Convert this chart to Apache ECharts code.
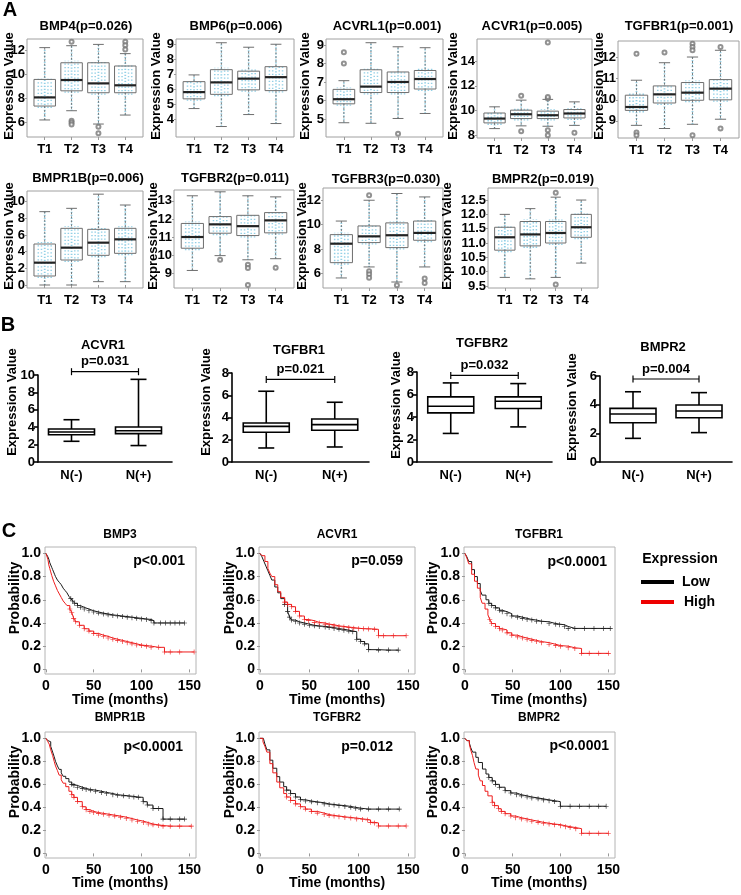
<!DOCTYPE html>
<html><head><meta charset="utf-8">
<script src="https://cdn.jsdelivr.net/npm/echarts@6/dist/echarts.min.js"></script>
<style>html,body{margin:0;padding:0;background:#fff}#c{width:741px;height:895px}</style>
</head><body><div id="c"></div>
<script>
// ---------------- DATA ----------------
// Panel A : five-number summaries [min, q1, median, q3, max] for T1..T4, outliers [category, value]
const A_CATS = ['T1','T2','T3','T4'];
const A_BMP4_BOX   = [[6.17,7.33,8.05,9.55,12.2],[6.94,8.6,9.5,10.94,12.36],[5.83,8.44,9.22,10.94,12.47],[6.58,8.44,9.06,10.67,11.7]];
const A_BMP4_OUT   = [[2,6.1],[2,5.95],[2,5.8],[2,12.7],[3,5.6],[3,5.06],[4,12.7],[4,12.4],[4,12.05]];
const A_BMP4_TICKS = [6,8,10,12];
const A_BMP6_BOX   = [[4.7,5.35,5.8,6.5,6.95],[3.5,5.65,6.45,7.3,9.1],[4.3,5.95,6.7,7.2,8.8],[3.7,5.9,6.8,7.5,9.0]];
const A_BMP6_OUT   = [];
const A_BMP6_TICKS = [4,5,6,7,8,9];
const A_ACVRL1_BOX = [[4.8,5.82,6.07,6.6,7.07],[4.77,6.43,6.75,7.66,9.12],[5.03,6.43,7.0,7.54,8.9],[5.3,6.62,7.16,7.62,8.85]];
const A_ACVRL1_OUT = [[1,8.6],[1,8.0],[3,4.2]];
const A_ACVRL1_TICKS = [5,6,7,8,9];
const A_ACVR1_BOX  = [[8.54,9.0,9.35,9.8,10.3],[8.76,9.35,9.7,10.03,10.84],[8.73,9.35,9.62,9.95,10.9],[8.8,9.4,9.76,10.08,10.7]];
const A_ACVR1_OUT  = [[2,11.2],[2,8.32],[3,15.5],[3,10.97],[3,11.1],[3,8.4],[3,8.0],[4,8.2]];
const A_ACVR1_TICKS = [8,10,12,14];
const A_TGFBR1_BOX = [[8.79,9.5,9.66,10.22,10.93],[8.64,9.85,10.26,10.66,11.76],[8.84,9.98,10.34,10.82,12.03],[9.08,10.0,10.53,10.96,12.35]];
const A_TGFBR1_OUT = [[1,12.19],[1,8.45],[1,8.32],[2,12.24],[3,12.66],[3,12.5],[3,12.35],[3,8.32],[4,12.5],[4,8.64]];
const A_TGFBR1_TICKS = [9,10,11,12];
const A_BMPR1B_BOX = [[0,1.08,2.68,4.92,8.8],[0,3.0,4.48,6.8,9.2],[0.4,3.56,5.08,6.68,10.9],[0.4,3.8,5.48,6.8,9.6]];
const A_BMPR1B_OUT = [];
const A_BMPR1B_TICKS = [0,2,4,6,8,10];
const A_TGFBR2_BOX = [[9.15,10.38,11.0,11.75,13.28],[9.97,11.21,11.7,12.13,13.5],[9.74,11.08,11.6,12.2,13.28],[9.8,11.23,11.92,12.35,13.22]];
const A_TGFBR2_OUT = [[2,9.74],[3,9.46],[3,9.28],[3,8.35],[4,9.3]];
const A_TGFBR2_TICKS = [9,10,11,12,13];
const A_TGFBR3_BOX = [[5.65,6.9,8.45,9.19,10.3],[6.55,8.54,9.05,9.9,12.0],[5.32,8.13,9.14,10.15,12.55],[6.55,8.73,9.33,10.3,12.27]];
const A_TGFBR3_OUT = [[2,12.4],[2,6.2],[2,5.95],[2,5.67],[3,5.05],[4,5.6],[4,5.24]];
const A_TGFBR3_TICKS = [6,8,10,12];
const A_BMPR2_BOX  = [[9.8,10.75,11.2,11.55,12.0],[9.75,10.9,11.3,11.75,12.2],[9.8,11.0,11.35,11.75,12.6],[10.3,11.2,11.55,12.0,12.5]];
const A_BMPR2_OUT  = [[3,9.55],[3,12.75]];
const A_BMPR2_TICKS = [9.5,10.0,10.5,11.0,11.5,12.0,12.5];

// Panel B : [min, q1, median, q3, max] for N(-), N(+)
const B_CATS = ['N(-)','N(+)'];
const B_ACVR1  = [[2.38,3.14,3.45,3.79,4.86],[1.89,3.26,3.6,4.02,9.5]];
const B_TGFBR1 = [[1.26,2.67,3.2,3.5,6.36],[1.35,2.85,3.36,3.87,5.37]];
const B_TGFBR2 = [[2.54,4.37,4.96,5.79,7.03],[3.12,4.75,5.4,5.79,6.97]];
const B_BMPR2  = [[1.65,2.74,3.35,3.74,4.9],[2.05,3.09,3.56,3.98,4.84]];
const B_PVALUES = ['p=0.031','p=0.021','p=0.032','p=0.004'];
const B_BRACKET_Y = [10.38,7.42,7.7,5.79];

// Panel C : Kaplan-Meier curves [months, probability]
const C_BMP3_LOW = [[0,1],[1,0.99],[2,0.97],[3,0.95],[4,0.92],[5,0.9],[6,0.88],[7,0.86],[8,0.84],[9,0.82],[10,0.8],[12,0.77],[14,0.75],[16,0.73],[18,0.7],[20,0.68],[22,0.66],[24,0.63],[26,0.61],[28,0.59],[30,0.57],[33,0.55],[36,0.535],[40,0.52],[45,0.505],[50,0.495],[55,0.485],[60,0.478],[65,0.47],[70,0.465],[75,0.46],[80,0.455],[85,0.45],[90,0.445],[95,0.44],[100,0.435],[105,0.43],[110,0.42],[113,0.4],[120,0.4],[125,0.4],[130,0.4],[135,0.4],[140,0.4],[145,0.4]];
const C_BMP3_HIGH = [[0,1],[2,0.95],[3,0.9],[4,0.87],[5,0.84],[6,0.81],[8,0.76],[10,0.72],[12,0.68],[14,0.65],[16,0.62],[18,0.59],[20,0.57],[22,0.55],[25,0.52],[27,0.49],[29,0.44],[31,0.41],[35,0.38],[40,0.35],[45,0.33],[50,0.31],[55,0.295],[60,0.285],[65,0.27],[70,0.26],[75,0.25],[80,0.24],[85,0.23],[90,0.22],[95,0.21],[100,0.205],[105,0.2],[110,0.19],[118,0.19],[124,0.15],[130,0.15],[140,0.15],[155,0.15]];
const C_ACVR1_LOW = [[0,1],[2,0.97],[4,0.93],[6,0.89],[8,0.85],[10,0.81],[12,0.77],[15,0.71],[18,0.66],[21,0.61],[25,0.56],[28,0.5],[30,0.45],[32,0.425],[36,0.41],[40,0.4],[45,0.39],[50,0.38],[55,0.375],[60,0.37],[66,0.366],[70,0.36],[75,0.352],[80,0.345],[85,0.338],[90,0.33],[94,0.325],[98,0.26],[102,0.24],[106,0.22],[110,0.17],[120,0.166],[130,0.166],[140,0.166]];
const C_ACVR1_HIGH = [[0,1],[2,0.98],[5,0.93],[8,0.87],[10,0.83],[12,0.8],[15,0.73],[18,0.67],[21,0.62],[25,0.58],[28,0.56],[32,0.54],[36,0.5],[40,0.46],[45,0.43],[49,0.42],[55,0.405],[60,0.4],[66,0.39],[70,0.385],[75,0.375],[80,0.37],[85,0.365],[90,0.36],[95,0.355],[100,0.35],[105,0.35],[110,0.348],[116,0.345],[120,0.29],[125,0.29],[135,0.29],[148,0.29]];
const C_TGFBR1_LOW = [[0,1],[2,0.97],[4,0.93],[7,0.86],[10,0.8],[13,0.74],[16,0.68],[18,0.64],[22,0.6],[25,0.57],[28,0.55],[32,0.53],[36,0.51],[39,0.497],[44,0.48],[49,0.46],[55,0.45],[60,0.44],[65,0.43],[70,0.425],[75,0.415],[80,0.41],[88,0.395],[95,0.39],[99,0.385],[104,0.37],[108,0.353],[115,0.353],[125,0.353],[135,0.353],[145,0.353],[152,0.353]];
const C_TGFBR1_HIGH = [[0,1],[2,0.96],[4,0.91],[7,0.82],[10,0.76],[13,0.7],[16,0.62],[18,0.57],[21,0.52],[24,0.47],[26,0.43],[28,0.395],[32,0.37],[36,0.35],[39,0.34],[44,0.315],[49,0.295],[55,0.28],[60,0.27],[65,0.26],[70,0.25],[75,0.24],[80,0.23],[88,0.216],[95,0.205],[100,0.2],[108,0.186],[115,0.18],[122,0.138],[130,0.138],[140,0.138],[150,0.138]];
const C_BMPR1B_LOW = [[0,1],[2,0.98],[3.4,0.97],[5,0.93],[7,0.88],[8.6,0.84],[10,0.8],[12,0.76],[13.8,0.73],[16,0.7],[18,0.67],[20.7,0.65],[24,0.62],[27,0.6],[29.3,0.59],[33,0.575],[38,0.565],[42,0.555],[46.6,0.55],[52,0.54],[58,0.53],[63.5,0.52],[70,0.51],[75,0.505],[81,0.5],[87,0.495],[92,0.49],[96.6,0.487],[101.7,0.449],[106,0.42],[112,0.39],[118,0.39],[122.5,0.298],[130,0.298],[140,0.298],[145,0.298]];
const C_BMPR1B_HIGH = [[0,1],[2,0.97],[3.4,0.95],[5,0.9],[7,0.85],[8.6,0.8],[10,0.76],[12,0.72],[13.8,0.68],[16,0.64],[18,0.61],[20.7,0.58],[24,0.54],[27,0.51],[29.3,0.487],[33,0.45],[38,0.405],[42,0.38],[46,0.365],[50,0.355],[55,0.348],[60,0.34],[66,0.332],[72,0.324],[78,0.315],[84,0.303],[90,0.29],[96,0.28],[102,0.268],[107,0.255],[112,0.248],[118,0.242],[122.5,0.237],[130,0.237],[140,0.237],[152,0.237]];
const C_TGFBR2_LOW = [[0,1],[3.4,0.985],[5,0.95],[7,0.9],[10,0.81],[13,0.74],[17,0.667],[20,0.62],[24,0.58],[27,0.55],[31,0.52],[36,0.49],[41,0.466],[46,0.455],[52,0.448],[58,0.44],[65,0.43],[70,0.425],[75,0.42],[80,0.415],[86,0.408],[92,0.4],[97,0.393],[102,0.385],[110,0.385],[120,0.385],[130,0.385],[141,0.385]];
const C_TGFBR2_HIGH = [[0,1],[3,0.97],[5,0.93],[7,0.88],[10,0.78],[13,0.7],[17,0.62],[20,0.57],[24,0.52],[27,0.49],[31,0.46],[36,0.43],[41,0.405],[46,0.385],[52,0.365],[58,0.35],[65,0.338],[70,0.33],[75,0.325],[80,0.318],[86,0.312],[92,0.307],[98,0.3],[104,0.295],[109,0.29],[112,0.27],[116,0.265],[120,0.238],[130,0.238],[140,0.238],[148,0.238]];
const C_BMPR2_LOW = [[0,1],[2,0.98],[4.6,0.96],[6,0.92],[8,0.88],[11.4,0.835],[14,0.79],[18.3,0.733],[22,0.69],[25,0.66],[28.5,0.63],[32,0.6],[36,0.575],[42,0.545],[48,0.525],[54,0.51],[59,0.5],[65,0.49],[70,0.482],[76.5,0.474],[82,0.465],[88,0.458],[93.6,0.45],[99.8,0.41],[110,0.41],[120,0.41],[130,0.41],[140,0.41],[147.7,0.41]];
const C_BMPR2_HIGH = [[0,1],[2,0.98],[4.6,0.95],[6,0.9],[7.9,0.85],[9.5,0.79],[11.4,0.733],[14,0.68],[16,0.63],[18.3,0.59],[21,0.54],[24,0.5],[28.5,0.445],[31,0.415],[35,0.388],[38,0.365],[42,0.345],[48,0.325],[53,0.31],[59,0.3],[65,0.29],[70,0.28],[76.5,0.27],[82,0.262],[88,0.255],[93.6,0.25],[100,0.24],[105,0.232],[110,0.224],[116,0.215],[122,0.175],[130,0.175],[140,0.175],[150,0.175]];
const C_PVALUES = ['p<0.001','p=0.059','p<0.0001','p<0.0001','p=0.012','p<0.0001'];
const C_YTICKS = [0,0.2,0.4,0.6,0.8,1.0];
const C_XTICKS = [0,50,100,150];

// ---------------- BUILD ----------------
const FONT = '"Liberation Sans", Arial, Helvetica, sans-serif';
const grids = [], xAxes = [], yAxes = [], series = [], graphic = [];

function addText(x, y, s, o) {
  o = o || {};
  const font = (o.weight || 'bold') + ' ' + (o.size || 13) + 'px ' + FONT;
  graphic.push({type:'text', x:x, y:y, rotation:o.rot || 0, z:100, silent:true,
    style:{text:s, x:0, y:0, font:font, fill:o.color || '#000',
      textAlign:o.align || 'center', align:o.align || 'center',
      textVerticalAlign:'middle', verticalAlign:'middle'}});
}
function lbl(extra){ return Object.assign({fontFamily:FONT, fontWeight:'bold', fontSize:13, color:'#000'}, extra||{}); }
function ln(x1,y1,x2,y2,stroke,lw,dash){
  return {type:'line', shape:{x1:x1,y1:y1,x2:x2,y2:y2}, style:{stroke:stroke, lineWidth:lw, lineDash:dash||null, fill:null}};
}

function renderA(params, api) {
  const x = api.value(0);
  const v = [api.value(1),api.value(2),api.value(3),api.value(4),api.value(5)];
  const y = v.map(t => api.coord([x, t])[1]);
  const cx = api.coord([x, v[2]])[0];
  const w = api.size([0.8, 0])[0], hw = w/2, cw = w/4;
  const blue = '#93d0e6', grey = '#6e6e6e';
  const k = [];
  k.push(ln(cx, y[0], cx, y[4], blue, 1.8, [1.3,1.7]));
  [-0.6,-0.3,0.3,0.6].forEach(f => k.push(ln(cx+f*hw, y[1]+2, cx+f*hw, y[3]-2, blue, 1.5, [1.3,2.2])));
  k.push(ln(cx, y[4], cx, y[3], grey, 0.9, [2,2]));
  k.push(ln(cx, y[1], cx, y[0], grey, 0.9, [2,2]));
  k.push(ln(cx-cw, y[4], cx+cw, y[4], grey, 1));
  k.push(ln(cx-cw, y[0], cx+cw, y[0], grey, 1));
  k.push({type:'rect', shape:{x:cx-hw, y:y[3], width:w, height:y[1]-y[3]}, style:{fill:null, stroke:grey, lineWidth:1}});
  k.push(ln(cx-hw, y[2], cx+hw, y[2], '#222', 2.2));
  return {type:'group', children:k};
}

function addA(box, out, ticks, L, title, fmt) {
  const gi = grids.length;
  grids.push({left:L.g[0], top:L.g[1], width:L.g[2], height:L.g[3], show:true, borderColor:'#a0a0a0', borderWidth:1, containLabel:false, outerBoundsMode:'none'});
  xAxes.push({gridIndex:gi, type:'value', min:0.34, max:4.66, splitLine:{show:false}, axisLine:{show:false},
    axisTick:{show:true, length:3, lineStyle:{color:'#999'}, customValues:[1,2,3,4]},
    axisLabel:lbl({customValues:[1,2,3,4], margin:6, formatter:v => A_CATS[Math.round(v)-1]})});
  yAxes.push({gridIndex:gi, type:'value', min:L.r[0], max:L.r[1], splitLine:{show:false}, axisLine:{show:false},
    axisTick:{show:true, length:2, lineStyle:{color:'#999'}, customValues:ticks},
    axisLabel:lbl({customValues:ticks, margin:2, formatter:v => fmt ? v.toFixed(1) : String(v)})});
  series.push({type:'custom', xAxisIndex:gi, yAxisIndex:gi, renderItem:renderA, clip:false,
    encode:{x:0, y:[1,2,3,4,5]}, data:box.map((d,i) => [i+1].concat(d))});
  series.push({type:'scatter', xAxisIndex:gi, yAxisIndex:gi, symbol:'emptyCircle', symbolSize:4,
    itemStyle:{color:'#777', borderColor:'#777', borderWidth:0.8}, data:out});
  addText(L.t[0], L.t[1], title);
  addText(L.yl[0], L.yl[1], 'Expression Value', {rot:Math.PI/2});
}

// layouts (pixel positions)
addA(A_BMP4_BOX,   A_BMP4_OUT,   A_BMP4_TICKS,   {g:[27,39,116,98],  r:[4.75,12.92], t:[86,26],  yl:[9,86]},  'BMP4(p=0.026)');
addA(A_BMP6_BOX,   A_BMP6_OUT,   A_BMP6_TICKS,   {g:[176,39,118,98], r:[2.8,9.35],   t:[236,26], yl:[156,86]}, 'BMP6(p=0.006)');
addA(A_ACVRL1_BOX, A_ACVRL1_OUT, A_ACVRL1_TICKS, {g:[326,39,117,98], r:[4.03,9.32],  t:[387,26], yl:[305,86]}, 'ACVRL1(p=0.001)');
addA(A_ACVR1_BOX,  A_ACVR1_OUT,  A_ACVR1_TICKS,  {g:[477,39,115,99], r:[7.78,15.78], t:[532,26], yl:[453,86]}, 'ACVR1(p=0.005)');
addA(A_TGFBR1_BOX, A_TGFBR1_OUT, A_TGFBR1_TICKS, {g:[618,41,121,97], r:[8.19,12.79], t:[679,26], yl:[599,86]}, 'TGFBR1(p=0.001)');
addA(A_BMPR1B_BOX, A_BMPR1B_OUT, A_BMPR1B_TICKS, {g:[27,191,116,97], r:[-0.36,11.28],t:[88,178], yl:[9,236]}, 'BMPR1B(p=0.006)');
addA(A_TGFBR2_BOX, A_TGFBR2_OUT, A_TGFBR2_TICKS, {g:[174,190,120,98],r:[8.18,13.6],  t:[235,178],yl:[153,236]}, 'TGFBR2(p=0.011)');
addA(A_TGFBR3_BOX, A_TGFBR3_OUT, A_TGFBR3_TICKS, {g:[323,188,120,100],r:[4.83,13.0], t:[386,179],yl:[302,236]}, 'TGFBR3(p=0.030)');
addA(A_BMPR2_BOX,  A_BMPR2_OUT,  A_BMPR2_TICKS,  {g:[488,188,110,100],r:[9.43,12.92],t:[543,179],yl:[447,236]}, 'BMPR2(p=0.019)', true);

// Panel B
function renderB(params, api) {
  const i = api.value(0);
  const v = [api.value(1),api.value(2),api.value(3),api.value(4),api.value(5)];
  const y = v.map(t => api.coord([i, t])[1]);
  const cx = api.coord([i, v[2]])[0];
  const hw = 23, cw = 8, s = '#000', lw = 1.6;
  return {type:'group', children:[
    ln(cx, y[4], cx, y[3], s, lw), ln(cx, y[1], cx, y[0], s, lw),
    ln(cx-cw, y[4], cx+cw, y[4], s, lw), ln(cx-cw, y[0], cx+cw, y[0], s, lw),
    {type:'rect', shape:{x:cx-hw, y:y[3], width:2*hw, height:y[1]-y[3]}, style:{fill:'#fff', stroke:s, lineWidth:lw}},
    ln(cx-hw, y[2], cx+hw, y[2], s, lw)
  ]};
}
function makeBracket(label) {
  return function(params, api) {
    const yv = api.value(2);
    const p0 = api.coord([api.value(0), yv]), p1 = api.coord([api.value(1), yv]);
    return {type:'group', children:[
      ln(p0[0], p0[1], p1[0], p1[1], '#000', 1.2),
      ln(p0[0], p0[1]-3.5, p0[0], p0[1]+3.5, '#000', 1.2),
      ln(p1[0], p1[1]-3.5, p1[0], p1[1]+3.5, '#000', 1.2),
      {type:'text', style:{text:label, x:(p0[0]+p1[0])/2, y:p0[1]-10, font:'bold 13px '+FONT, fill:'#000', align:'center', textAlign:'center', verticalAlign:'middle', textVerticalAlign:'middle'}}
    ]};
  };
}
function addB(data, maxV, ticks, L, title, pIdx) {
  const gi = grids.length;
  grids.push({left:L.g[0], top:L.g[1], width:L.g[2], height:L.g[3], show:false, containLabel:false, outerBoundsMode:'none'});
  xAxes.push({gridIndex:gi, type:'category', data:B_CATS, boundaryGap:true,
    axisLine:{show:true, lineStyle:{color:'#000', width:1.6}},
    axisTick:{show:false}, splitLine:{show:false},
    axisLabel:lbl({margin:7})});
  yAxes.push({gridIndex:gi, type:'value', min:0, max:maxV, splitLine:{show:false},
    axisLine:{show:true, lineStyle:{color:'#000', width:1.6}},
    axisTick:{show:true, length:4, lineStyle:{color:'#000', width:1.6}, customValues:ticks},
    axisLabel:lbl({customValues:ticks, margin:3})});
  series.push({type:'custom', xAxisIndex:gi, yAxisIndex:gi, renderItem:renderB, clip:false,
    encode:{x:0, y:[1,2,3,4,5]}, data:data.map((d,i) => [i].concat(d))});
  series.push({type:'custom', xAxisIndex:gi, yAxisIndex:gi, renderItem:makeBracket(B_PVALUES[pIdx]), clip:false,
    encode:{x:[0,1], y:2}, data:[[0,1,B_BRACKET_Y[pIdx]]]});
  addText(L.t[0], L.t[1], title);
  addText(L.yl[0], L.yl[1], 'Expression Value', {rot:Math.PI/2});
}
addB(B_ACVR1,  10, [0,2,4,6,8,10], {g:[38,375,134,87],  t:[103,345], yl:[12,402]},  'ACVR1', 0);
addB(B_TGFBR1, 8,  [0,2,4,6,8],    {g:[232,373,137,89], t:[299,350], yl:[206,402]}, 'TGFBR1', 1);
addB(B_TGFBR2, 8,  [0,2,4,6,8],    {g:[417,372,135,90], t:[482,343], yl:[396,405]}, 'TGFBR2', 2);
addB(B_BMPR2,  6,  [0,2,4,6],      {g:[600,376,132,86], t:[663,347], yl:[572,407]}, 'BMPR2', 3);

// Panel C
const CROSS = 'path://M4.4,0H5.6V10H4.4ZM0,4.4H10V5.6H0Z';
function censorSymbol(value) { return value[0] >= 25 ? CROSS : 'none'; }
function addC(low, high, L, title, pIdx) {
  const gi = grids.length;
  grids.push({left:L.g[0], top:L.g[1], width:L.g[2], height:L.g[3], show:true, borderColor:'#b4b4b4', borderWidth:1, containLabel:false, outerBoundsMode:'none'});
  xAxes.push({gridIndex:gi, type:'value', min:-1, max:157, splitLine:{show:false}, axisLine:{show:false},
    axisTick:{show:true, length:3, lineStyle:{color:'#999'}, customValues:C_XTICKS},
    axisLabel:lbl({customValues:C_XTICKS, margin:5, fontSize:14})});
  yAxes.push({gridIndex:gi, type:'value', min:-0.04, max:1.055, splitLine:{show:false}, axisLine:{show:false},
    axisTick:{show:true, length:3, lineStyle:{color:'#999'}, customValues:C_YTICKS},
    axisLabel:lbl({customValues:C_YTICKS, margin:4, fontSize:14, formatter:v => v === 0 ? '0' : v.toFixed(1)})});
  [[low,'#1a1a1a'],[high,'#ee1c1c']].forEach(function(p){
    series.push({type:'line', xAxisIndex:gi, yAxisIndex:gi, step:'end', data:p[0], showSymbol:true,
      symbol:censorSymbol, symbolSize:5, lineStyle:{color:p[1], width:1}, itemStyle:{color:p[1]}, z:p[1]==='#ee1c1c'?3:2});
  });
  addText(L.t[0], L.t[1], title, {size:12});
  addText(L.p[0], L.p[1], C_PVALUES[pIdx], {align:'right', size:14});
  addText(L.yl[0], L.yl[1], 'Probability', {rot:Math.PI/2, size:14});
  addText(L.t[0], L.xl, 'Time (months)', {size:14});
}
addC(C_BMP3_LOW,   C_BMP3_HIGH,   {g:[45,547,151,127],  t:[120,535], p:[185,561], yl:[15,598], xl:700}, 'BMP3', 0);
addC(C_ACVR1_LOW,  C_ACVR1_HIGH,  {g:[259,547,156,127], t:[337,535], p:[403,561], yl:[230,598], xl:700}, 'ACVR1', 1);
addC(C_TGFBR1_LOW, C_TGFBR1_HIGH, {g:[464,547,151,127], t:[539,535], p:[607,562], yl:[433,598], xl:700}, 'TGFBR1', 2);
addC(C_BMPR1B_LOW, C_BMPR1B_HIGH, {g:[45,732,151,126],  t:[120,718], p:[183,747], yl:[15,782], xl:883}, 'BMPR1B', 3);
addC(C_TGFBR2_LOW, C_TGFBR2_HIGH, {g:[259,732,156,126], t:[337,718], p:[393,747], yl:[230,782], xl:883}, 'TGFBR2', 4);
addC(C_BMPR2_LOW,  C_BMPR2_HIGH,  {g:[464,732,151,126], t:[539,718], p:[609,746], yl:[433,782], xl:883}, 'BMPR2', 5);

// legend for panel C
addText(680, 559, 'Expression', {size:14});
graphic.push({type:'line', shape:{x1:641, y1:582, x2:674, y2:582}, style:{stroke:'#000', lineWidth:4}});
graphic.push({type:'line', shape:{x1:641, y1:602, x2:674, y2:602}, style:{stroke:'#ee0000', lineWidth:4}});
addText(682, 582, 'Low', {align:'left', size:14});
addText(684, 602, 'High', {align:'left', size:14});

// panel letters
addText(10, 10, 'A', {size:20});
addText(8, 325, 'B', {size:20});
addText(9, 531, 'C', {size:20});

const chart = echarts.init(document.getElementById('c'), null, {renderer:'canvas'});
chart.setOption({animation:false, backgroundColor:'#fff', grid:grids, xAxis:xAxes, yAxis:yAxes, series:series, graphic:graphic});
</script></body></html>
